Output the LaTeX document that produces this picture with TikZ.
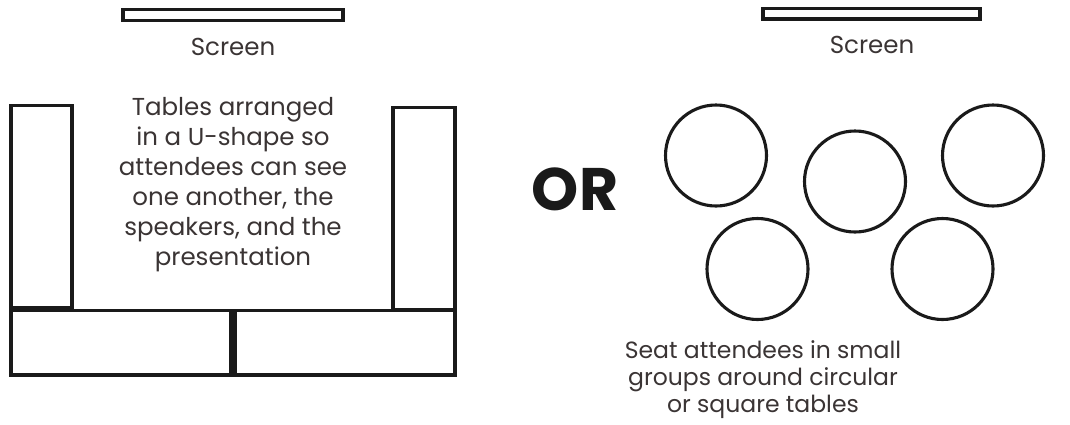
\documentclass[tikz,border=0pt]{standalone}
\usepackage{fontspec}
\setmainfont{Poppins}
\definecolor{ink}{HTML}{1A1A1A}
\definecolor{txt}{HTML}{3A3434}
\tikzset{
  tablebox/.style={draw=ink, line width=3.4pt, fill=white},
  screenbox/.style={draw=ink, line width=3.2pt},
  roundtable/.style={draw=ink, line width=3.1pt, circle, minimum size=101pt, inner sep=0pt},
  lbl/.style={text=txt, font=\fontsize{24.5}{30}\selectfont, align=center, inner sep=0pt},
  smalllbl/.style={text=txt, font=\fontsize{23.5}{27}\selectfont, align=center, inner sep=0pt},
  orlbl/.style={text=ink, font=\fontsize{60}{64}\selectfont\bfseries, inner sep=0pt}
}
\begin{document}
\begin{tikzpicture}[x=1pt,y=-1pt]
\useasboundingbox (0,0) rectangle (1070,424);
% left layout
\draw[screenbox] (123,9.5) rectangle (343,20.5);
\node[lbl, anchor=base] (scrL) at (233,55) {Screen};
\draw[tablebox] (11,105.5) rectangle (72,307.5);
\draw[tablebox] (393,107.5) rectangle (455,309.5);
\draw[tablebox] (11,310.5) rectangle (231,375);
\draw[tablebox] (235,310.5) rectangle (455,375);
\node[lbl, anchor=base] (ushape) at (233,265) {Tables arranged\\in a U-shape so\\attendees can see\\one another, the\\speakers, and the\\presentation};
% OR
\node[orlbl, anchor=base] (or) at (575,210) {OR};
% right layout
\draw[screenbox] (763,8.5) rectangle (980,19);
\node[lbl, anchor=base] (scrR) at (872,53) {Screen};
\node[roundtable] (t1) at (716,155.5) {};
\node[roundtable] (t2) at (855,181.5) {};
\node[roundtable] (t3) at (993,155.5) {};
\node[roundtable] (t4) at (757.5,269) {};
\node[roundtable] (t5) at (942.5,269) {};
\node[smalllbl, anchor=base] (groups) at (763,412) {Seat attendees in small\\groups around circular\\or square tables};
\end{tikzpicture}
\end{document}
